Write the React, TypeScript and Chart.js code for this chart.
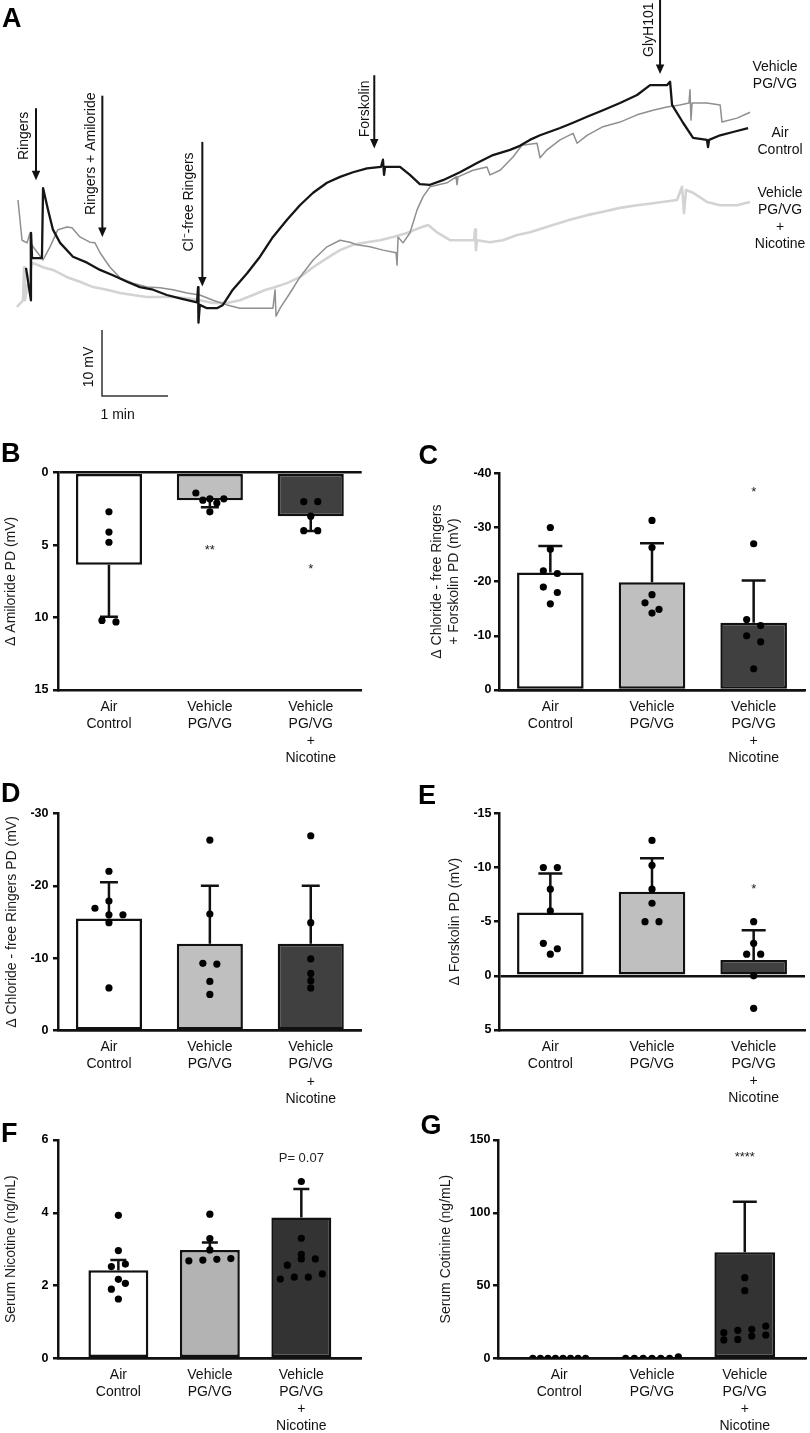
import React, { useEffect, useRef } from 'react';
import { Chart, registerables } from 'chart.js';

Chart.register(...registerables);

const FONT = "'Liberation Sans', Arial, Helvetica, sans-serif";
Chart.defaults.font.family = FONT;
Chart.defaults.color = '#111';

// ================= Panel A: transepithelial PD traces (time s, PD mV) =================
const traceAirControl: [number, number][] = [
  [10, 9.4], [14.5, 4.5], [14.6, 14.7], [15.5, 10.9], [24.5, 10.9], [25.5, 21.5], [30, 18.2], [34.5, 15.2],
  [41, 13.2], [52.7, 11.1], [65.5, 10.2], [77.3, 9.1], [89, 8.3], [101.8, 7.3], [113.6, 6.5], [125.5, 6.1],
  [138, 5.3], [150, 4.8], [165.5, 4.2], [166.4, 6.5], [166.8, 1.1], [168, 3.8], [174.5, 3.3], [183.6, 3.3],
  [189, 3.8], [198, 6.1], [211, 8.6], [222.7, 11.1], [234.5, 14.1], [247.3, 16.7], [259, 18.9], [271, 20.8],
  [283.6, 22.3], [295.5, 23.2], [307.3, 23.9], [320, 24.5], [332.7, 24.7], [334.5, 25.8], [335.5, 23.5],
  [336.4, 24.7], [350, 24.7], [359, 23.5], [368, 22.1], [377.3, 22.0], [389, 22.7], [404.5, 23.9], [420, 25.3],
  [434.5, 26.5], [450, 27.3], [459, 27.9], [468, 28.8], [477.3, 29.5], [495.5, 30.6], [507.3, 31.4], [520, 32.3],
  [534.5, 33.3], [550, 34.4], [565.5, 35.6], [577.3, 37.1], [592.7, 37.1], [595.5, 37.6], [597.3, 34.1],
  [607.3, 31.4], [616.4, 29.1], [629, 28.8], [630, 27.7], [631, 28.8], [641, 29.5], [652.7, 30.0], [666.4, 30.6],
];
const traceVehicle: [number, number][] = [
  [2.7, 19.7], [6.4, 13.6], [10.9, 13.2], [13.6, 14.7], [14.5, 4.5], [15, 13], [16.4, 12.6], [25.5, 10.6],
  [31.8, 12.6], [39, 15.2], [47.3, 15.6], [51.8, 15.5], [59, 14.1], [68, 13.3], [72.7, 13.2], [77.3, 11.7],
  [86.4, 9.5], [95.5, 7.9], [107.3, 7.1], [120, 6.5], [131.8, 6.4], [143.6, 6.1], [156.4, 5.6], [168, 5.3],
  [180, 4.5], [192.7, 3.8], [204.5, 3.3], [216.4, 3.3], [234.5, 3.3], [236.4, 6.1], [237.3, 2.1], [241, 3.3],
  [250, 5.6], [259, 8.0], [271, 10.6], [283.6, 12.6], [295.5, 13.6], [304.5, 13.3], [311, 12.9], [322.7, 12.6],
  [334.5, 12.1], [346.4, 11.7], [347.3, 9.8], [348.2, 14.1], [352.7, 13.2], [359, 14.7], [365.5, 18.2],
  [371, 20.2], [377.3, 21.7], [392.7, 22.3], [401, 23.2], [401.8, 22.0], [402.7, 23.2], [416.4, 24.2],
  [429, 24.7], [431.8, 23.5], [441, 24.2], [452.7, 26.2], [460.9, 28.0], [474.5, 28.3], [477.3, 26.1],
  [483.6, 27.3], [495.5, 28.8], [507.3, 29.8], [511, 28.3], [520, 29.5], [534.5, 30.8], [550, 31.5],
  [565.5, 32.6], [580, 33.3], [592.7, 33.8], [604.5, 34.1], [612.7, 34.4], [613.6, 36.4], [614.5, 31.8],
  [615.5, 34.4], [629, 34.4], [641, 34.1], [642.7, 31.5], [656.4, 32.1], [668.2, 33.0],
];
const traceNicotine: [number, number][] = [
  [1.8, 3.5], [7.3, 4.5], [8.2, 9.5], [9, 4.5], [15.5, 10.2], [25.5, 9.5], [34.5, 9.1], [47.3, 8.0], [59, 7.3],
  [71, 6.5], [83.6, 6.1], [95.5, 5.6], [107.3, 5.3], [120, 5.0], [131.8, 5.0], [143.6, 5.0], [156.4, 4.8],
  [168, 4.5], [180, 4.1], [192.7, 4.1], [204.5, 4.5], [216.4, 5.3], [228, 6.1], [234.5, 6.4], [247.3, 7.1],
  [259, 8.0], [271, 9.5], [283.6, 10.9], [295.5, 12.1], [307.3, 12.9], [320, 13.3], [331.8, 13.6], [343.6, 14.1],
  [356.4, 14.7], [368.2, 15.5], [375.5, 15.9], [383.6, 14.8], [395.5, 13.6], [407.3, 13.6], [417.3, 13.6],
  [418.2, 15.2], [419, 12.1], [420, 13.6], [431.8, 13.3], [443.6, 13.6], [456.4, 14.4], [468.2, 14.8],
  [489, 15.9], [504.5, 16.7], [520, 17.4], [534.5, 17.9], [550, 18.5], [565.5, 18.9], [580, 19.2], [601.8, 19.7],
  [606.4, 21.7], [608.2, 17.7], [610, 21.2], [616.4, 20.8], [629, 19.4], [641, 18.9], [656.4, 18.9], [668.2, 19.4],
];

// solution additions: time of addition and arrow extent (mV units of the trace)
const additions = [
  { label: 'Ringers', t: 19.1, top: 33.6, tip: 22.7, textV: 29.4 },
  { label: 'Ringers + Amiloride', t: 79.4, top: 35.5, tip: 14.1, textV: 26.7 },
  { label: 'Cl⁻-free Ringers', t: 170.3, top: 28.5, tip: 6.6, textV: 19.4 },
  { label: 'Forskolin', t: 326.6, top: 38.6, tip: 27.5, textV: 33.5 },
  { label: 'GlyH101', t: 586.4, top: 50, tip: 38.8, textV: 45.5 },
];
const additionTextShift = [-12, -11.5, -13, -9.3, -10.5];

const traceSeriesLabels = [
  { lines: ['Vehicle', 'PG/VG'], t: 690.9, v: 38.6 },
  { lines: ['Air', 'Control'], t: 695.5, v: 28.6 },
  { lines: ['Vehicle', 'PG/VG', '+', 'Nicotine'], t: 695.5, v: 16.9 },
];
const scaleBar = { t: 79.1, v: 0, mV: 10, seconds: 60 };

// ================= Panels B–G: bar + scatter =================
const categories = [['Air', 'Control'], ['Vehicle', 'PG/VG'], ['Vehicle', 'PG/VG', '+', 'Nicotine']];

// B: Δ Amiloride PD (mV)
const amilorideMeans = [6.35, 1.9, 3.0];
const amilorideErr = [3.6, 0.48, 1.03];
const amilorideAir = [2.7, 4.1, 4.8, 10.3, 10.2];
const amilorideVeh = [1.8, 1.9, 1.8, 1.4, 2.1, 2.7];
const amilorideNic = [2.0, 2.0, 3.0, 4.0, 4.0];

// C: Δ Chloride-free Ringers + Forskolin PD (mV)
const clFskMeans = [-21.7, -19.9, -12.4];
const clFskErr = [4.9, 7.2, 7.8];
const clFskAir = [-30.0, -26.0, -22.0, -21.5, -19.0, -18.0, -15.9];
const clFskVeh = [-31.3, -26.3, -17.6, -16.1, -14.2, -14.9];
const clFskNic = [-27.0, -13.0, -11.9, -10.0, -8.9, -3.9];

// D: Δ Chloride-free Ringers PD (mV)
const clMeans = [-15.5, -12.0, -12.0];
const clErr = [5.0, 8.0, 8.0];
const clAir = [-22.0, -17.9, -16.9, -16.0, -16.0, -14.9, -5.9];
const clVeh = [-26.3, -16.1, -9.2, -9.3, -6.8, -5.0];
const clNic = [-26.9, -14.9, -9.9, -7.9, -6.9, -5.9];

// E: Δ Forskolin PD (mV)
const fskMeans = [-5.85, -7.75, -1.45];
const fskErr = [3.6, 3.1, 2.75];
const fskAir = [-10.0, -10.0, -8.0, -6.0, -3.0, -2.0, -2.5];
const fskVeh = [-12.5, -10.2, -8.0, -6.7, -5.0, -5.0];
const fskNic = [-5.0, -3.0, -2.0, -2.0, 0, 3.0];

// F: Serum nicotine (ng/mL)
const nicMeans = [2.42, 2.98, 3.87];
const nicErr = [0.28, 0.2, 0.78];
const nicAir = [3.93, 2.96, 2.59, 2.52, 2.17, 2.06, 1.9, 1.63];
const nicVeh = [3.96, 3.29, 2.98, 2.74, 2.72, 2.7, 2.68];
const nicNic = [4.86, 3.3, 2.86, 2.73, 2.73, 2.56, 2.32, 2.23, 2.23, 2.18];

// G: Serum cotinine (ng/mL)
const cotMeans = [0, 0, 72.8];
const cotErr = [0, 0, 34.8];
const cotAir = [0, 0, 0, 0, 0, 0, 0, 0];
const cotVeh = [0, 1, 0, 0, 0, 0, 0];
const cotNic = [55.4, 46.5, 22.2, 19.9, 19.2, 17.6, 16.0, 15.3, 13.0, 12.6];

const BAR_FRAC = 0.655;
const DOT_D = 7;
const SWARM_STEP = 14;

const panels: any[] = [
  {
    letter: 'B', left: 0, top: 440, width: 400, height: 340,
    plot: { left: 58, top: 32.7, right: 361.7, bottom: 250 },
    yMin: 0, yMax: 15, step: 5, reverse: true, xMin: -0.505, xMax: 2.505,
    title: 'Δ Amiloride PD (mV)', titleCenter: 11, tickPad: 4.5, cap: 18,
    means: amilorideMeans, errs: amilorideErr, groups: [amilorideAir, amilorideVeh, amilorideNic],
    colors: ['#ffffff', '#bfbfbf', '#404040'],
    sig: [{ cat: 1, text: '**', v: 5.05 }, { cat: 2, text: '*', v: 6.4 }],
  },
  {
    letter: 'C', left: 400, top: 440, width: 410, height: 340,
    plot: { left: 99, top: 33.3, right: 405, bottom: 250 },
    yMin: -40, yMax: 0, step: 10, reverse: true, xMin: -0.505, xMax: 2.505,
    title: ['Δ Chloride - free Ringers', '+ Forskolin PD (mV)'], titleCenter: 37, tickPad: 2.5, cap: 24,
    means: clFskMeans, errs: clFskErr, groups: [clFskAir, clFskVeh, clFskNic],
    colors: ['#ffffff', '#bfbfbf', '#404040'],
    sig: [{ cat: 2, text: '*', v: -37.3 }],
  },
  {
    letter: 'D', left: 0, top: 780, width: 400, height: 330,
    plot: { left: 58, top: 33.3, right: 361.7, bottom: 250.7 },
    yMin: -30, yMax: 0, step: 10, reverse: true, xMin: -0.505, xMax: 2.505,
    title: 'Δ Chloride - free Ringers PD (mV)', titleCenter: 12, tickPad: 4.5, cap: 18,
    means: clMeans, errs: clErr, groups: [clAir, clVeh, clNic],
    colors: ['#ffffff', '#bfbfbf', '#404040'],
    sig: [],
  },
  {
    letter: 'E', left: 400, top: 780, width: 410, height: 330,
    plot: { left: 99, top: 33.3, right: 405, bottom: 250 },
    yMin: -15, yMax: 5, step: 5, reverse: true, xMin: -0.505, xMax: 2.505,
    title: 'Δ Forskolin PD (mV)', titleCenter: 55, tickPad: 2.5, cap: 24,
    means: fskMeans, errs: fskErr, groups: [fskAir, fskVeh, fskNic],
    colors: ['#ffffff', '#bfbfbf', '#404040'],
    sig: [{ cat: 2, text: '*', v: -8.4 }],
  },
  {
    letter: 'F', left: 0, top: 1110, width: 400, height: 323,
    plot: { left: 58, top: 30, right: 361.7, bottom: 248.3 },
    yMin: 0, yMax: 6, step: 2, reverse: false, xMin: -0.66, xMax: 2.66,
    title: 'Serum Nicotine (ng/mL)', titleCenter: 11, tickPad: 4.5, cap: 16,
    means: nicMeans, errs: nicErr, groups: [nicAir, nicVeh, nicNic],
    colors: ['#ffffff', '#b3b3b3', '#333333'],
    sig: [{ cat: 2, text: 'P= 0.07', v: 5.5 }],
  },
  {
    letter: 'G', left: 400, top: 1110, width: 410, height: 323,
    plot: { left: 98, top: 30, right: 406.7, bottom: 248.3 },
    yMin: 0, yMax: 150, step: 50, reverse: false, xMin: -0.66, xMax: 2.66,
    title: 'Serum Cotinine (ng/mL)', titleCenter: 46, tickPad: 2.5, cap: 24,
    means: cotMeans, errs: cotErr, groups: [cotAir, cotVeh, cotNic],
    colors: ['#ffffff', '#b3b3b3', '#333333'],
    sig: [{ cat: 2, text: '****', v: 141 }],
  },
];

const letterPos: Record<string, [number, number]> = {
  A: [2, 4.5], B: [1, 439.5], C: [418.5, 441.5], D: [1, 779.5], E: [418, 781.5], F: [1, 1119.5], G: [420.5, 1111.5],
};

function swarm(p: any) {
  const pyu = (p.plot.bottom - p.plot.top) / (p.yMax - p.yMin);
  const pxu = (p.plot.right - p.plot.left) / (p.xMax - p.xMin);
  const barPx = BAR_FRAC * pxu;
  const pts: { x: number; y: number }[] = [];
  p.groups.forEach((vals: number[], gi: number) => {
    const idx = vals.map((_, i) => i).sort((a, b) => vals[a] - vals[b]);
    let k = 0;
    while (k < idx.length) {
      const start = vals[idx[k]] * pyu;
      let e = k + 1;
      while (e < idx.length && vals[idx[e]] * pyu - start < DOT_D) e++;
      const n = e - k;
      const s = n > 1 ? Math.min(SWARM_STEP, (barPx - 8) / (n - 1)) : 0;
      for (let j = 0; j < n; j++) {
        pts.push({ x: gi + ((j - (n - 1) / 2) * s) / pxu, y: vals[idx[k + j]] });
      }
      k = e;
    }
  });
  return pts;
}

function barConfig(p: any): any {
  const extras = {
    id: 'panelExtras',
    afterDatasetDraw(chart: any, args: any) {
      if (args.index !== 1) return;
      const { ctx } = chart;
      const xs = chart.scales.x;
      const ys = chart.scales.y;
      ctx.save();
      ctx.strokeStyle = '#111';
      ctx.lineWidth = 2.5;
      p.means.forEach((m: number, i: number) => {
        const e = p.errs[i];
        if (!e) return;
        const dir = m < 0 ? -1 : 1;
        const px = xs.getPixelForValue(i);
        const y0 = ys.getPixelForValue(m);
        const y1 = ys.getPixelForValue(m + dir * e);
        ctx.beginPath();
        ctx.moveTo(px, y0);
        ctx.lineTo(px, y1);
        ctx.moveTo(px - p.cap / 2, y1);
        ctx.lineTo(px + p.cap / 2, y1);
        ctx.stroke();
      });
      ctx.restore();
    },
    afterDraw(chart: any) {
      const { ctx } = chart;
      const xs = chart.scales.x;
      const ys = chart.scales.y;
      ctx.save();
      ctx.fillStyle = '#222';
      ctx.textAlign = 'center';
      p.sig.forEach((s: any) => {
        const px = xs.getPixelForValue(s.cat);
        const py = ys.getPixelForValue(s.v);
        ctx.font = `13px ${FONT}`;
        if (s.text.includes('*')) {
          ctx.textBaseline = 'alphabetic';
          ctx.fillText(s.text, px, py + 7.8);
        } else {
          ctx.textBaseline = 'middle';
          ctx.fillText(s.text, px, py);
        }
      });
      ctx.restore();
    },
  };
  return {
    type: 'bar',
    data: {
      datasets: [
        {
          type: 'scatter',
          data: swarm(p),
          pointRadius: 3.6,
          pointBackgroundColor: '#000',
          pointBorderWidth: 0,
          order: 0,
        },
        {
          type: 'bar',
          data: p.means.map((m: number, i: number) => ({ x: i, y: m })),
          backgroundColor: p.colors,
          borderColor: '#111',
          borderWidth: 2.5,
          borderSkipped: false,
          barPercentage: BAR_FRAC,
          categoryPercentage: 1,
          order: 1,
        },
      ],
    },
    options: {
      responsive: false,
      animation: false,
      events: [],
      layout: { padding: { left: 0, top: p.plot.top, right: p.width - p.plot.right, bottom: 0 } },
      plugins: { legend: { display: false }, tooltip: { enabled: false } },
      scales: {
        x: {
          type: 'linear',
          offset: false,
          min: p.xMin,
          max: p.xMax,
          grid: { display: false, drawTicks: false, tickLength: 0 },
          border: { display: true, color: '#111', width: 2.5 },
          afterBuildTicks: (s: any) => {
            s.ticks = categories.map((_, i) => ({ value: i }));
          },
          afterFit: (s: any) => {
            s.height = p.height - p.plot.bottom;
          },
          ticks: {
            callback: (v: any) => categories[v as number] ?? '',
            font: { family: FONT, size: 14, lineHeight: 17.2 / 14 },
            color: '#111',
            padding: 8.1,
            maxRotation: 0,
            minRotation: 0,
            autoSkip: false,
          },
        },
        y: {
          type: 'linear',
          min: p.yMin,
          max: p.yMax,
          reverse: p.reverse,
          ticks: {
            stepSize: p.step,
            font: { family: FONT, size: 12.5, weight: 'bold' },
            color: '#000',
            padding: p.tickPad,
          },
          grid: {
            drawOnChartArea: true,
            color: (ctx: any) => (ctx.tick && ctx.tick.value === 0 ? '#111' : 'rgba(0,0,0,0)'),
            tickColor: '#111',
            lineWidth: 2.5,
            tickLength: 5,
          },
          border: { display: true, color: '#111', width: 2.5 },
          title: {
            display: true,
            text: p.title,
            font: { family: FONT, size: 14, lineHeight: 17 / 14 },
            color: '#1a1a1a',
            padding: { top: p.titleCenter - 8.5, bottom: 0 },
          },
          afterFit: (s: any) => {
            s.width = p.plot.left;
          },
        },
      },
    },
    plugins: [extras],
  };
}

function traceConfig(): any {
  const annotations = {
    id: 'traceAnnotations',
    afterDatasetsDraw(chart: any) {
      const { ctx } = chart;
      const xs = chart.scales.x;
      const ys = chart.scales.y;
      ctx.save();
      ctx.fillStyle = '#111';
      ctx.strokeStyle = '#111';
      ctx.font = `14px ${FONT}`;
      ctx.textAlign = 'center';
      ctx.textBaseline = 'middle';
      additions.forEach((a, i) => {
        const px = xs.getPixelForValue(a.t);
        const top = ys.getPixelForValue(a.top);
        const tip = ys.getPixelForValue(a.tip);
        ctx.lineWidth = 2;
        ctx.beginPath();
        ctx.moveTo(px, top);
        ctx.lineTo(px, tip - 8);
        ctx.stroke();
        ctx.beginPath();
        ctx.moveTo(px - 4.2, tip - 9.5);
        ctx.lineTo(px + 4.2, tip - 9.5);
        ctx.lineTo(px, tip);
        ctx.closePath();
        ctx.fill();
        ctx.save();
        ctx.translate(px + additionTextShift[i], ys.getPixelForValue(a.textV));
        ctx.rotate(-Math.PI / 2);
        ctx.fillText(a.label, 0, 0);
        ctx.restore();
      });
      // series labels
      traceSeriesLabels.forEach((l) => {
        const px = xs.getPixelForValue(l.t);
        const cy = ys.getPixelForValue(l.v);
        l.lines.forEach((line, j) => {
          ctx.fillText(line, px, cy + (j - (l.lines.length - 1) / 2) * 16.9);
        });
      });
      // scale bar
      const bx = xs.getPixelForValue(scaleBar.t);
      const by0 = ys.getPixelForValue(scaleBar.v);
      const by1 = ys.getPixelForValue(scaleBar.v - scaleBar.mV);
      const bx1 = xs.getPixelForValue(scaleBar.t + scaleBar.seconds);
      ctx.strokeStyle = '#333';
      ctx.lineWidth = 1.5;
      ctx.beginPath();
      ctx.moveTo(bx, by0);
      ctx.lineTo(bx, by1);
      ctx.lineTo(bx1, by1);
      ctx.stroke();
      ctx.fillStyle = '#111';
      ctx.save();
      ctx.translate(bx - 13, (by0 + by1) / 2 + 4);
      ctx.rotate(-Math.PI / 2);
      ctx.fillText(`${scaleBar.mV} mV`, 0, 0);
      ctx.restore();
      ctx.textAlign = 'left';
      ctx.fillText(`${scaleBar.seconds / 60} min`, bx - 1.5, by1 + 19);
      ctx.restore();
    },
  };
  const toXY = (arr: [number, number][]) => arr.map(([t, v]) => ({ x: t, y: v }));
  return {
    type: 'line',
    data: {
      datasets: [
        { label: 'Air Control', data: toXY(traceAirControl), borderColor: '#151515', borderWidth: 2.3, order: 0 },
        { label: 'Vehicle PG/VG', data: toXY(traceVehicle), borderColor: '#8f8f8f', borderWidth: 1.5, order: 1 },
        { label: 'Vehicle PG/VG + Nicotine', data: toXY(traceNicotine), borderColor: '#d3d3d3', borderWidth: 2.6, order: 2 },
      ],
    },
    options: {
      responsive: false,
      animation: false,
      events: [],
      layout: { padding: 0 },
      elements: { point: { radius: 0 }, line: { tension: 0, borderJoinStyle: 'round' } },
      plugins: { legend: { display: false }, tooltip: { enabled: false } },
      scales: {
        x: { type: 'linear', display: false, min: -13.64, max: 722.7 },
        y: { type: 'linear', display: false, min: -13.64, max: 50 },
      },
    },
    plugins: [annotations],
  };
}

export default function App() {
  const traceRef = useRef<HTMLCanvasElement | null>(null);
  const barRefs = useRef<(HTMLCanvasElement | null)[]>([]);

  useEffect(() => {
    const charts: Chart[] = [];
    if (traceRef.current) charts.push(new Chart(traceRef.current, traceConfig()));
    panels.forEach((p, i) => {
      const c = barRefs.current[i];
      if (c) charts.push(new Chart(c, barConfig(p)));
    });
    return () => charts.forEach((c) => c.destroy());
  }, []);

  const letterStyle = (l: string): React.CSSProperties => ({
    position: 'absolute',
    left: letterPos[l][0],
    top: letterPos[l][1],
    font: `bold 27px/27px ${FONT}`,
    color: '#000',
    margin: 0,
  });

  return (
    <div style={{ position: 'absolute', left: 0, top: 0, width: 810, height: 1433, background: '#fff', overflow: 'hidden' }}>
      <canvas ref={traceRef} width={810} height={420} style={{ position: 'absolute', left: 0, top: 0, width: 810, height: 420 }} />
      {panels.map((p, i) => (
        <canvas
          key={p.letter}
          ref={(el) => {
            barRefs.current[i] = el;
          }}
          width={p.width}
          height={p.height}
          style={{ position: 'absolute', left: p.left, top: p.top, width: p.width, height: p.height }}
        />
      ))}
      {['A', 'B', 'C', 'D', 'E', 'F', 'G'].map((l) => (
        <div key={l} style={letterStyle(l)}>
          {l}
        </div>
      ))}
    </div>
  );
}
